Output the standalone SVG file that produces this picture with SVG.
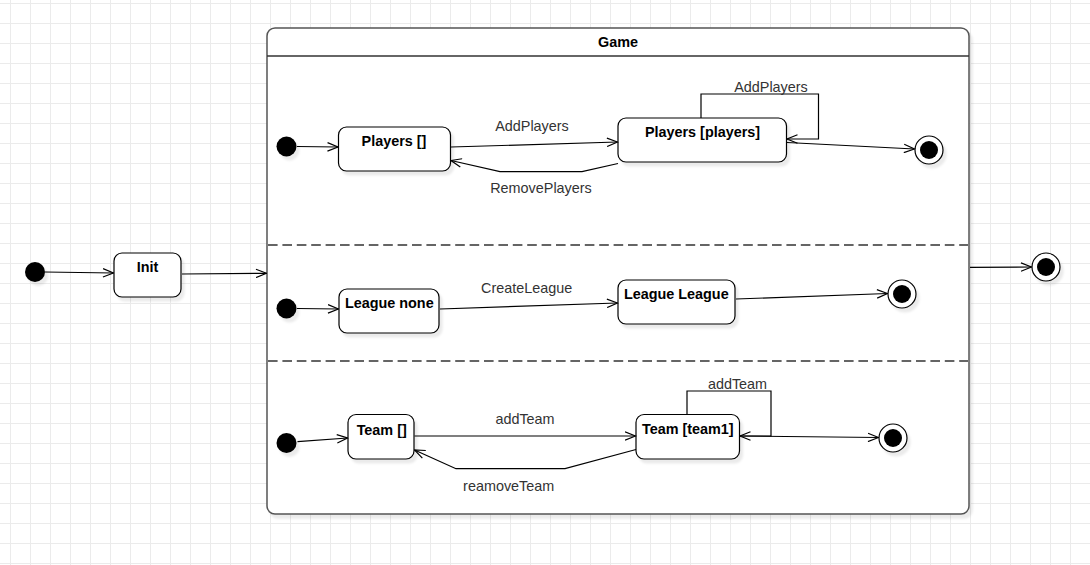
<svg xmlns="http://www.w3.org/2000/svg" width="1090" height="565" viewBox="0 0 1090 565">
<style>
.state{fill:#fff;stroke:#000;stroke-width:1.2}
.init{fill:#000;stroke:none}
.fo{fill:#fff;stroke:#000;stroke-width:1.2}
.fi{fill:#000}
.edge{fill:none;stroke:#000;stroke-width:1.2}
.nt{font-family:"Liberation Sans",Arial,sans-serif;font-size:14.4px;font-weight:bold;fill:#000;text-anchor:middle}
.lt{font-family:"Liberation Sans",Arial,sans-serif;font-size:14.4px;fill:#333;text-anchor:middle}
.sep{stroke:#333;stroke-width:1.5;stroke-dasharray:9.6 4.8;fill:none}
</style>
<defs>
<pattern id="grid" x="10" y="3" width="20" height="20" patternUnits="userSpaceOnUse">
<path d="M0.5,0 V20 M0,0.5 H20" stroke="#ebebeb" stroke-width="1" fill="none"/>
</pattern>
<filter id="sh" x="-10%" y="-10%" width="130%" height="140%">
<feGaussianBlur in="SourceAlpha" stdDeviation="1.2" result="b"/>
<feOffset in="b" dx="3" dy="4" result="o"/>
<feFlood flood-color="#000" flood-opacity="0.08"/>
<feComposite in2="o" operator="in" result="s"/>
<feMerge><feMergeNode in="s"/><feMergeNode in="SourceGraphic"/></feMerge>
</filter>
<marker id="arr" markerWidth="12" markerHeight="10" refX="11" refY="5" orient="auto" markerUnits="userSpaceOnUse">
<path d="M0.5,0.8 L11,5 L0.5,9.2" fill="none" stroke="#000" stroke-width="1.2"/>
</marker>
</defs>
<rect width="1090" height="565" fill="#fff"/>
<rect width="1090" height="565" fill="url(#grid)"/>

<g id="game">
<rect x="267" y="28" width="702" height="486" rx="8" fill="#fff" stroke="#555" stroke-width="1.5" filter="url(#sh)"/>
<line x1="267" y1="56" x2="969" y2="56" stroke="#333" stroke-width="1.5"/>
<text class="nt" x="618" y="47">Game</text>
<line class="sep" x1="268" y1="245" x2="968" y2="245"/>
<line class="sep" x1="268" y1="361" x2="968" y2="361"/>
</g>

<g id="start-outer"><circle class="init" cx="35" cy="272" r="10" filter="url(#sh)"/></g>
<g id="init"><rect class="state" x="114" y="253" width="67" height="44" rx="8" filter="url(#sh)"/><text class="nt" x="147.5" y="272">Init</text></g>
<g id="end-outer"><circle class="fo" cx="1046" cy="267" r="14" filter="url(#sh)"/><circle class="fi" cx="1046" cy="267" r="9"/></g>

<g id="start-players"><circle class="init" cx="286.5" cy="146.5" r="10" filter="url(#sh)"/></g>
<g id="players-empty"><rect class="state" x="338.5" y="127" width="112" height="44" rx="8" filter="url(#sh)"/><text class="nt" x="394" y="146">Players []</text></g>
<g id="players-full"><rect class="state" x="618" y="118" width="168.5" height="44" rx="8" filter="url(#sh)"/><text class="nt" x="702.5" y="137">Players [players]</text></g>
<g id="end-players"><circle class="fo" cx="929" cy="150" r="14" filter="url(#sh)"/><circle class="fi" cx="929" cy="150" r="9"/></g>

<g id="start-league"><circle class="init" cx="286.5" cy="308.5" r="10" filter="url(#sh)"/></g>
<g id="league-none"><rect class="state" x="339" y="289" width="100" height="44" rx="8" filter="url(#sh)"/><text class="nt" x="389.3" y="308.3">League none</text></g>
<g id="league-league"><rect class="state" x="618" y="280" width="117" height="44" rx="8" filter="url(#sh)"/><text class="nt" x="676.3" y="299.3">League League</text></g>
<g id="end-league"><circle class="fo" cx="902" cy="294" r="14" filter="url(#sh)"/><circle class="fi" cx="902" cy="294" r="9"/></g>

<g id="start-team"><circle class="init" cx="286.5" cy="443" r="10" filter="url(#sh)"/></g>
<g id="team-empty"><rect class="state" x="348" y="414.5" width="66" height="44.5" rx="8" filter="url(#sh)"/><text class="nt" x="381.7" y="435">Team []</text></g>
<g id="team-full"><rect class="state" x="636" y="414.5" width="103.5" height="44.5" rx="8" filter="url(#sh)"/><text class="nt" x="687.8" y="434.3">Team [team1]</text></g>
<g id="end-team"><circle class="fo" cx="893" cy="438" r="14" filter="url(#sh)"/><circle class="fi" cx="893" cy="438" r="9"/></g>

<g id="connectors">
<path class="edge" d="M45,272 L113.5,273" marker-end="url(#arr)"/>
<path class="edge" d="M182,274 L266.5,273.3" marker-end="url(#arr)"/>
<path class="edge" d="M970,267.3 L1031.5,267" marker-end="url(#arr)"/>

<path class="edge" d="M297,146.5 L338,147" marker-end="url(#arr)"/>
<path class="edge" d="M451,147 L617.5,142" marker-end="url(#arr)"/>
<path class="edge" d="M618,163.5 L582,171.7 L500,171.7 L451,160.5" marker-end="url(#arr)"/>
<path class="edge" d="M701,118 L701,94 L818.5,94 L818.5,139 L787,139" marker-end="url(#arr)"/>
<path class="edge" d="M787,142.5 L914.5,149" marker-end="url(#arr)"/>

<path class="edge" d="M297,308.5 L338.5,309" marker-end="url(#arr)"/>
<path class="edge" d="M440,309 L617.5,303" marker-end="url(#arr)"/>
<path class="edge" d="M736,299 L887.5,293.5" marker-end="url(#arr)"/>

<path class="edge" d="M297.5,441.7 L347.5,438" marker-end="url(#arr)"/>
<path class="edge" d="M414.5,436 L635.5,436" marker-end="url(#arr)"/>
<path class="edge" d="M636,449.5 L565,468.7 L456,468.7 L414.5,450" marker-end="url(#arr)"/>
<path class="edge" d="M687,414.5 L687,391 L771,391 L771,436 L740,436" marker-end="url(#arr)"/>
<path class="edge" d="M740,436 L878.5,437.5" marker-end="url(#arr)"/>

<text class="lt" x="532" y="131">AddPlayers</text>
<text class="lt" x="541" y="193">RemovePlayers</text>
<text class="lt" x="771" y="92">AddPlayers</text>
<text class="lt" x="526.7" y="293">CreateLeague</text>
<text class="lt" x="525" y="424">addTeam</text>
<text class="lt" x="508.7" y="490.5">reamoveTeam</text>
<text class="lt" x="737.5" y="389">addTeam</text>
</g>
</svg>
